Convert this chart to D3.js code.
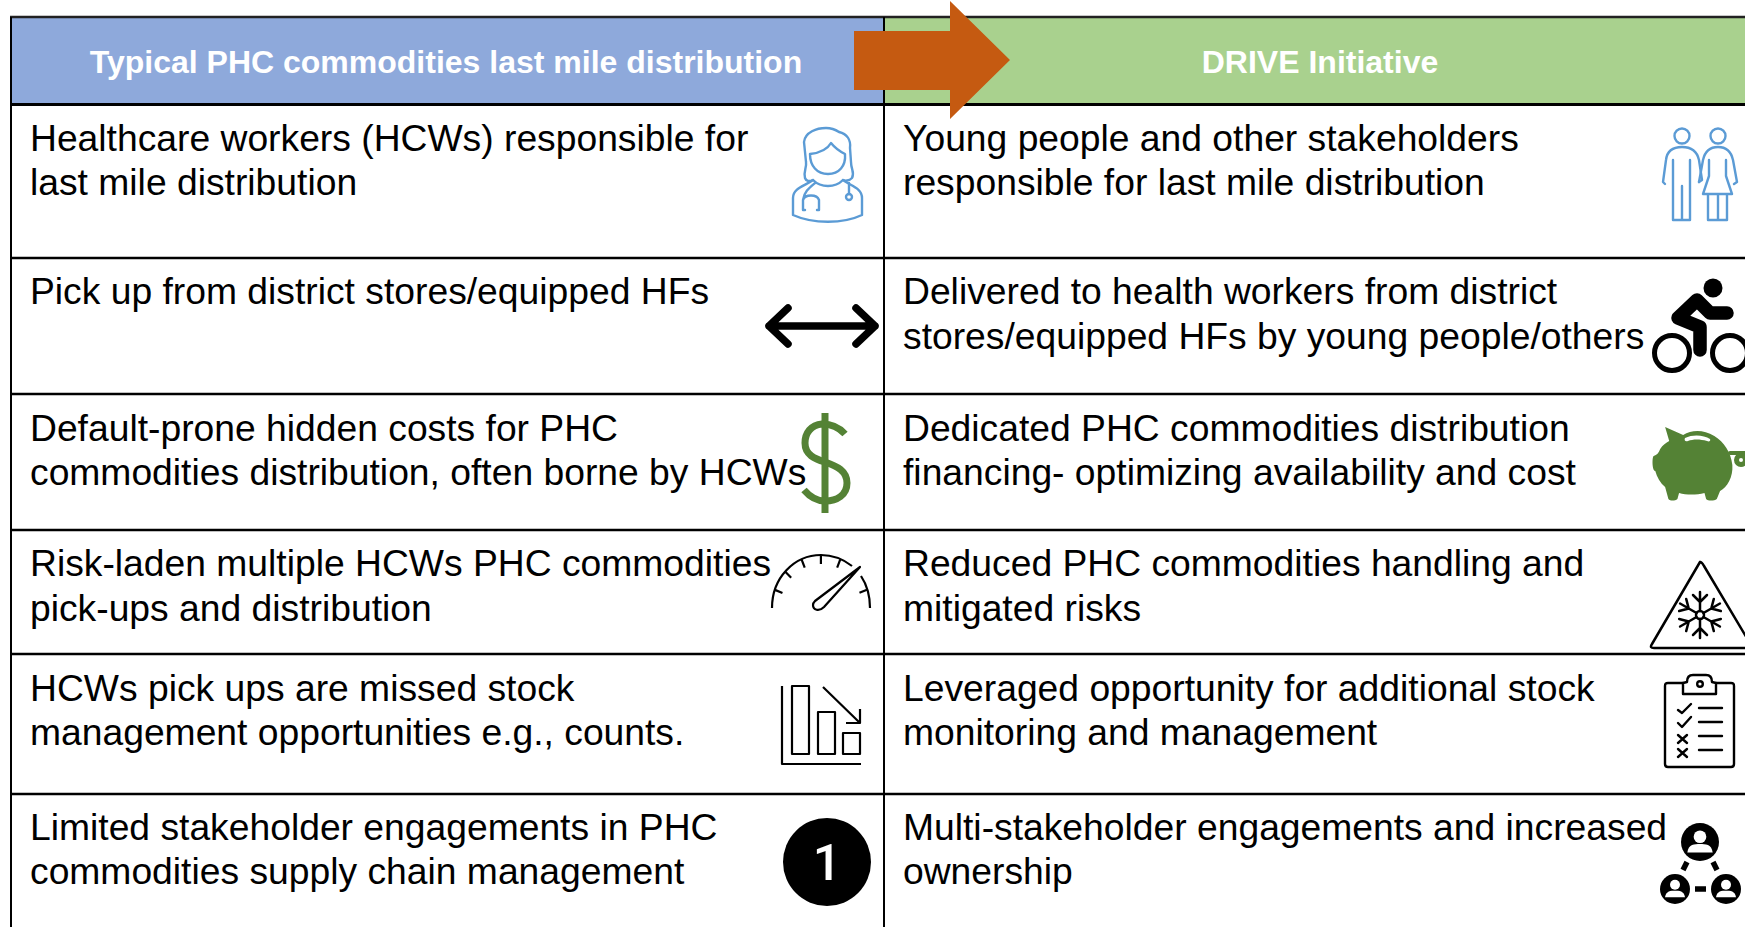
<!DOCTYPE html>
<html>
<head>
<meta charset="utf-8">
<script src="https://cdn.jsdelivr.net/npm/d3@7"></script>
<style>
  html, body { margin: 0; background: #fff; overflow: hidden; }
  svg { display: block; font-family: "Liberation Sans", Arial, sans-serif; }
</style>
</head>
<body>
<div id="chart"></div>
<script>
/* PHC commodities vs DRIVE comparison table */

const headers = ["Typical PHC commodities last mile distribution", "DRIVE Initiative"];

const leftRows = [
  ["Healthcare workers (HCWs) responsible for", "last mile distribution"],
  ["Pick up from district stores/equipped HFs"],
  ["Default-prone hidden costs for PHC", "commodities distribution, often borne by HCWs"],
  ["Risk-laden multiple HCWs PHC commodities", "pick-ups and distribution"],
  ["HCWs pick ups are missed stock", "management opportunities e.g., counts."],
  ["Limited stakeholder engagements in PHC", "commodities supply chain management"]
];

const rightRows = [
  ["Young people and other stakeholders", "responsible for last mile distribution"],
  ["Delivered to health workers from district", "stores/equipped HFs by young people/others"],
  ["Dedicated PHC commodities distribution", "financing- optimizing availability and cost"],
  ["Reduced PHC commodities handling and", "mitigated risks"],
  ["Leveraged opportunity for additional stock", "monitoring and management"],
  ["Multi-stakeholder engagements and increased", "ownership"]
];

let width = 1745,
    height = 927,
    leftX = 11,
    midX = 884,
    topY = 17,
    headBottom = 104.5,
    rowLines = [258, 394, 530, 654, 794],
    baselines = [151, 304, 441, 576, 701, 840],
    lineGaps = [44.3, 45.4, 44.3, 45.4, 44.3, 44.3],
    textX = [30, 903];

const blue = "#5B9BD5",
      green = "#548235";

const svg = d3.select("#chart")
  .append("svg")
  .attr("width", width)
  .attr("height", height)
  .attr("viewBox", [0, 0, width, height]);

// header fills
svg.append("rect").attr("x", leftX).attr("y", topY).attr("width", midX - leftX).attr("height", headBottom - topY).attr("fill", "#8EA9DB");
svg.append("rect").attr("x", midX).attr("y", topY).attr("width", width - midX).attr("height", headBottom - topY).attr("fill", "#A9D18E");

// table lines
svg.selectAll(".h-line")
  .data([topY, headBottom, ...rowLines])
  .join("line")
  .attr("class", "h-line")
  .attr("x1", leftX - 1).attr("x2", width)
  .attr("y1", d => d).attr("y2", d => d)
  .attr("stroke", (d, i) => i === 0 ? "#222" : "#000")
  .attr("stroke-width", (d, i) => i === 1 ? 3 : 2.4);

svg.selectAll(".v-line")
  .data([leftX, midX])
  .join("line")
  .attr("class", "v-line")
  .attr("x1", d => d).attr("x2", d => d)
  .attr("y1", topY).attr("y2", height)
  .attr("stroke", "#000")
  .attr("stroke-width", 2);

// header text
svg.selectAll(".head")
  .data(headers)
  .join("text")
  .attr("class", "head")
  .attr("x", (d, i) => i === 0 ? 446 : 1320)
  .attr("y", 73)
  .attr("text-anchor", "middle")
  .attr("font-size", 32)
  .attr("font-weight", "bold")
  .attr("fill", "#fff")
  .text(d => d);

// big arrow over the header
svg.append("path")
  .attr("d", d3.line()([[854, 31], [950, 31], [950, 1], [1010, 60], [950, 119], [950, 90], [854, 90]]) + "Z")
  .attr("fill", "#C55A11");

// row text
[leftRows, rightRows].forEach((rows, c) => {
  rows.forEach((lines, r) => {
    svg.selectAll(null)
      .data(lines)
      .join("text")
      .attr("x", textX[c])
      .attr("y", (d, i) => baselines[r] + i * lineGaps[r])
      .attr("font-size", 37.25)
      .attr("fill", "#000")
      .text(d => d);
  });
});

/* icons */
function icon(x, y, color, sw) {
  return svg.append("g")
    .attr("transform", `translate(${x},${y})`)
    .attr("fill", "none")
    .attr("stroke", color)
    .attr("stroke-width", sw)
    .attr("stroke-linecap", "round")
    .attr("stroke-linejoin", "round");
}

// nurse
let nurse = icon(793, 128, blue, 2.4);
nurse.append("path").attr("d", "M0,87 V70 C0,60 12,58 20,52 C28,60 42,60 50,52 C58,58 69,60 69,70 V87 C50,96 20,96 0,87Z");
nurse.append("path").attr("d", "M12,50 C10,44 14,40 13,34 L11,14 C12,4 24,0 33,0 C40,0 43,2 46,4 C54,6 58,12 57,20 L58,34 C58,42 62,44 59,50 C56,53 52,53 50,52 M20,52 C16,54 13,53 12,50");
nurse.append("path").attr("d", "M17,26 C26,25 34,22 38,15 C42,20 48,24 52,26 C53,38 46,46 35,46 C24,46 17,38 17,26Z");
nurse.append("path").attr("d", "M22,55 C16,60 11,64 10,72 V82 M10,72 C12,66 24,66 26,72 V82 M10,82 H12 M26,82 H24 M56,55 V66");
nurse.append("circle").attr("cx", 56).attr("cy", 69).attr("r", 3);

// two people
let people = icon(1662, 128, blue, 2.4);
people.append("circle").attr("cx", 20).attr("cy", 8).attr("r", 7.5);
people.append("circle").attr("cx", 56).attr("cy", 8).attr("r", 7.5);
people.append("path").attr("d", "M11,32 V92 H28 V32 M20,58 V92 M3,56 L1,54 L4,32 C5,23 11,19 20,19 C29,19 35,23 37,32 L40,52 L37,54");
people.append("path").attr("d", "M47,32 V48 L41,66 H70 L64,48 V32 M46,66 V92 H65 V66 M56,66 V92 M37,54 L41,32 C43,23 48,19 56,19 C64,19 69,23 71,32 L75,54 L72,56");

// double arrow
let dbl = icon(766, 326, "#000", 7.5);
dbl.append("path").attr("d", "M3,0 H109 M22,-18 L3,0 L22,18 M90,-18 L109,0 L90,18");

// bike
let bike = icon(1672, 353, "#000", 5);
bike.append("circle").attr("r", 17.5);
bike.append("circle").attr("cx", 58).attr("r", 17.5);
bike.append("circle").attr("cx", 41).attr("cy", -65).attr("r", 9.5).attr("fill", "#000").attr("stroke", "none");
bike.append("path").attr("d", "M28,-3 V-26 L6,-35 L25,-53 L38,-40 H55").attr("stroke-width", 13.5);

// dollar
let dollar = icon(825, 413, green, 7).attr("stroke-linecap", "butt").attr("stroke-linejoin", "miter");
dollar.append("path").attr("d", "M0,0 V100");
dollar.append("path").attr("d", "M20,21 C12,12 4,11 -3,11 C-14,12 -20,20 -20,30 C-20,42 -10,46 0,49 C12,53 22,58 22,70 C22,82 12,88 0,88 C-8,88 -15,84 -21,77");

// piggy bank
let pig = icon(1652, 427, green, 0).attr("fill", green).attr("stroke", "none");
pig.append("path")
  .attr("transform", "scale(0.82,1)")
  .attr("d", "M16,0 L38,8 C48,3 62,2 76,9 C88,15 96,25 98,38 C99,50 92,60 83,64 L79,72 C76,74 68,74 66,72 L64,66 C54,68 42,68 33,66 L31,72 C28,74 22,74 20,72 L16,60 C10,56 6,50 4,44 C0,44 0,30 2,29 C6,28 8,26 10,22 C13,18 17,16 21,14Z");
pig.append("path").attr("d", "M33,11 C41,7 52,8 58,12 C59,14 57,15 55,14 C48,12 41,12 36,14 C33,15 32,13 33,11Z").attr("fill", "#fff");
pig.append("path").attr("d", "M78,26 L88,26 H96").attr("fill", "none").attr("stroke", green).attr("stroke-width", 4);
pig.append("circle").attr("cx", 89).attr("cy", 33).attr("r", 4.5).attr("fill", "none").attr("stroke", green).attr("stroke-width", 5);

// gauge
let gauge = icon(821, 608, "#000", 2.2).attr("stroke-linecap", "butt");
gauge.append("path").attr("d", "M-49,0 C-49,-30 -27,-53 0,-53 C12,-53 22,-49 31,-42 M40,-32 C46,-23 49,-12 49,0");
d3.range(-70, 71, 23.3).filter(a => Math.abs(a - 47) > 3).forEach(a => {
  let rad = a * Math.PI / 180;
  gauge.append("line")
    .attr("x1", 49 * Math.sin(rad)).attr("y1", -53 * Math.cos(rad))
    .attr("x2", 41 * Math.sin(rad)).attr("y2", -44 * Math.cos(rad));
});
gauge.append("path").attr("d", "M39,-41 L3,-1 C-2,4 -8,2 -8,-3 C-8,-5 -7,-6 -6,-7Z");

// falling bars
let bars = icon(782, 686, "#000", 2.2).attr("stroke-linecap", "butt");
bars.append("path").attr("d", "M0,0 V78 H79");
bars.append("rect").attr("x", 10).attr("y", 0).attr("width", 17).attr("height", 68);
bars.append("rect").attr("x", 36).attr("y", 26).attr("width", 17).attr("height", 42);
bars.append("rect").attr("x", 61).attr("y", 47).attr("width", 17).attr("height", 21);
bars.append("path").attr("d", "M41,1 L78,37 M78,23 V37 H64");

// snowflake warning
let snow = icon(1700, 615, "#000", 2.5);
snow.append("path").attr("d", "M0,-53 L-48,29 C-50,32 -49,33 -46,33 L60,33 M0,-53 C2,-53 3,-51 4,-49 L60,45");
snow.append("circle").attr("r", 4);
d3.range(0, 360, 60).forEach(a => {
  let arm = snow.append("g").attr("transform", `rotate(${a})`);
  arm.append("path").attr("d", "M0,-4 V-23 M-7,-20 L0,-13 L7,-20");
});

// clipboard
let clip = icon(1665, 683, "#000", 2.4);
clip.append("path").attr("d", "M18,0 H3 C1,0 0,1 0,3 V81 C0,83 1,84 3,84 H66 C68,84 69,83 69,81 V3 C69,1 68,0 66,0 H51");
clip.append("path").attr("d", "M18,11 V0 L22,-1 C22,-5 24,-8 28,-8 H41 C45,-8 47,-5 47,-1 L51,0 V11Z").attr("fill", "#fff");
clip.append("circle").attr("cx", 35).attr("cy", 1).attr("r", 2.8);
[27, 41, 55, 69].forEach(y => {
  clip.append("line").attr("x1", 34).attr("x2", 57).attr("y1", y - 2).attr("y2", y - 2);
});
clip.append("path").attr("d", "M13,27 L17,30 L26,21 M13,40 L17,44 L26,34 M13,52 L22,60 M22,52 L13,60 M13,66 L22,74 M22,66 L13,74");

// number badge
svg.append("circle").attr("cx", 827).attr("cy", 862).attr("r", 44).attr("fill", "#000");
svg.append("text")
  .attr("x", 827).attr("y", 880)
  .attr("text-anchor", "middle")
  .attr("font-family", "Roboto, sans-serif")
  .attr("font-weight", 500)
  .attr("font-size", 50)
  .attr("fill", "#fff")
  .text("1");

// stakeholder network
let net = icon(0, 0, "#000", 0).attr("fill", "#000").attr("stroke", "none");
[[1700, 842, 19], [1675, 889, 15], [1726, 889, 15]].forEach(p => {
  let g = net.append("g").attr("transform", `translate(${p[0]},${p[1]}) scale(${p[2] / 18})`);
  g.append("circle").attr("r", 18);
  g.append("circle").attr("cy", -5).attr("r", 6).attr("fill", "#fff");
  g.append("path").attr("d", "M-12,10 C-11,2 -5,2 0,2 C5,2 11,2 12,10Z").attr("fill", "#fff");
});
net.append("path")
  .attr("d", "M1687,862 L1683,870 M1713,862 L1717,870 M1695,889 H1706")
  .attr("fill", "none").attr("stroke", "#000").attr("stroke-width", 5.5)
  .attr("stroke-linecap", "butt");
</script>
</body>
</html>
